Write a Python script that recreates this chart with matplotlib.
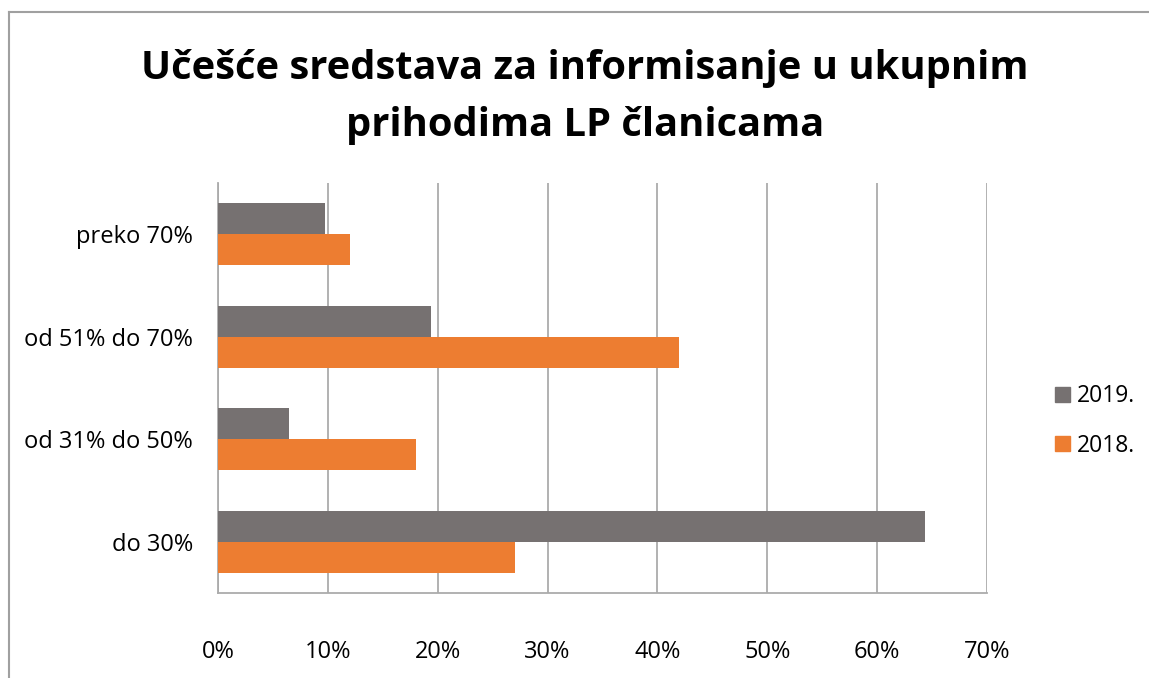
import matplotlib
matplotlib.use("Agg")
import matplotlib.pyplot as plt
from matplotlib.patches import Patch
from matplotlib.lines import Line2D
import numpy as np

categories = ["do 30%", "od 31% do 50%", "od 51% do 70%", "preko 70%"]
series_names = ["2019.", "2018."]
values_2019 = [64.4, 6.5, 19.4, 9.7]
values_2018 = [27.0, 18.0, 42.0, 12.0]
xticks = [0, 10, 20, 30, 40, 50, 60, 70]
xtick_labels = ["0%", "10%", "20%", "30%", "40%", "50%", "60%", "70%"]
title = "Učešće sredstava za informisanje u ukupnim\nprihodima LP članicama"

col_2019 = "#767171"
col_2018 = "#ED7D31"
grid_col = "#ABABAB"

plt.rcParams['font.family'] = ['Open Sans', 'DejaVu Sans']

W, H = 1149, 678
fig = plt.figure(figsize=(W / 100, H / 100), dpi=100)
ax = fig.add_axes([218 / W, 1 - 593 / H, (987 - 218) / W, (593 - 183) / H])

y = np.arange(len(categories))
bh = 0.302
ax.barh(y + bh / 2, values_2019, height=bh, color=col_2019, zorder=3)
ax.barh(y - bh / 2, values_2018, height=bh, color=col_2018, zorder=3)

ax.set_xlim(0, 70)
ax.set_ylim(-0.5, 3.5)
ax.set_xticks(xticks)
ax.set_xticklabels(xtick_labels)
ax.set_yticks(y)
ax.set_yticklabels(categories)
ax.tick_params(axis='both', length=0, labelsize=17, colors='black')
ax.tick_params(axis='y', pad=18)
ax.tick_params(axis='x', pad=34)
ax.xaxis.grid(True, color=grid_col, linewidth=1.3, zorder=0)
for s in ["top", "right"]:
    ax.spines[s].set_visible(False)
for s in ["left", "bottom"]:
    ax.spines[s].set_color(grid_col)
    ax.spines[s].set_linewidth(1.3)

fig.text(585 / W, 1 - 97 / H, title, ha='center', va='center',
         fontsize=28.7, fontweight='bold', linespacing=1.6)

handles = [Patch(color=col_2019), Patch(color=col_2018)]
fig.legend(handles, series_names, loc='center left',
           bbox_to_anchor=(1044 / W, 1 - 421 / H), frameon=False,
           fontsize=16.5, handlelength=0.65, handleheight=0.65,
           handletextpad=0.3, labelspacing=1.1, borderpad=0)

fig.add_artist(Line2D([9 / W, 1], [1 - 12 / H, 1 - 12 / H], color='#A0A0A0', linewidth=1.5))
fig.add_artist(Line2D([9 / W, 9 / W], [0, 1 - 12 / H], color='#A0A0A0', linewidth=1.5))

fig.savefig("out.png", dpi=100, facecolor='white')
